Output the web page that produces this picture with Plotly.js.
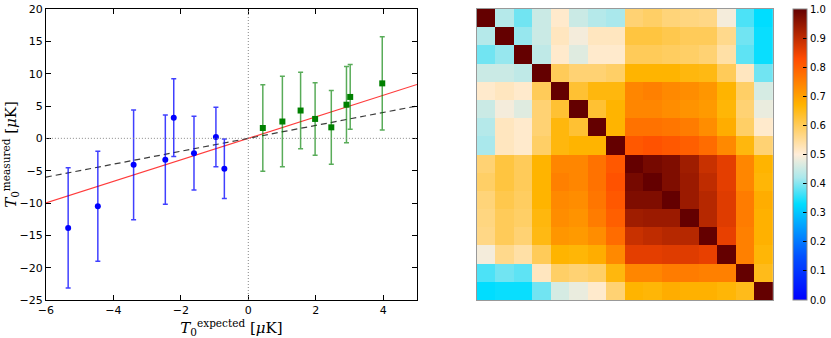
<!DOCTYPE html>
<html>
<head>
<meta charset="utf-8">
<script src="https://cdn.plot.ly/plotly-3.0.1.min.js"></script>
<style>
  body { margin: 0; background: #fff; }
  #chart { width: 831px; height: 338px; }
</style>
</head>
<body>
<div id="chart"></div>
<script>
// negative-expectation bins (blue circles)
const blueX = [-5.34, -4.46, -3.40, -2.46, -2.21, -1.61, -0.96, -0.71];
const blueY = [-13.85, -10.5, -4.1, -3.3, 3.2, -2.3, 0.2, -4.7];
const blueErr = [9.3, 8.5, 8.5, 6.9, 6.0, 5.7, 4.6, 4.6];

// positive-expectation bins (green squares)
const greenX = [0.43, 1.01, 1.55, 1.98, 2.46, 2.91, 3.02, 3.97];
const greenY = [1.6, 2.6, 4.3, 3.0, 1.7, 5.2, 6.4, 8.5];
const greenErr = [6.7, 7.0, 5.9, 5.6, 5.7, 5.9, 5.0, 7.2];

// fitted line and one-to-one line
const fitX = [-6, 5];
const fitY = [-10, 8.33];
const unitX = [-6, 5];
const unitY = [-6, 5];

// correlation matrix, 16 bins
const corr = [
  [1.00, 0.43, 0.39, 0.45, 0.51, 0.45, 0.43, 0.42, 0.58, 0.59, 0.575, 0.57, 0.565, 0.49, 0.37, 0.33],
  [0.43, 1.00, 0.41, 0.45, 0.52, 0.49, 0.52, 0.52, 0.62, 0.62, 0.61, 0.60, 0.60, 0.56, 0.39, 0.335],
  [0.39, 0.41, 1.00, 0.44, 0.51, 0.47, 0.51, 0.51, 0.60, 0.60, 0.595, 0.59, 0.58, 0.54, 0.38, 0.335],
  [0.45, 0.45, 0.44, 1.00, 0.60, 0.58, 0.58, 0.59, 0.67, 0.67, 0.67, 0.66, 0.655, 0.60, 0.52, 0.39],
  [0.51, 0.52, 0.51, 0.60, 1.00, 0.63, 0.66, 0.66, 0.74, 0.75, 0.735, 0.73, 0.715, 0.67, 0.59, 0.46],
  [0.45, 0.49, 0.47, 0.58, 0.63, 1.00, 0.63, 0.67, 0.74, 0.74, 0.73, 0.72, 0.71, 0.665, 0.58, 0.48],
  [0.43, 0.52, 0.51, 0.58, 0.66, 0.63, 1.00, 0.67, 0.77, 0.77, 0.765, 0.755, 0.73, 0.68, 0.59, 0.51],
  [0.42, 0.52, 0.51, 0.59, 0.66, 0.67, 0.67, 1.00, 0.81, 0.82, 0.81, 0.80, 0.78, 0.735, 0.66, 0.58],
  [0.58, 0.62, 0.60, 0.67, 0.74, 0.74, 0.77, 0.81, 1.00, 0.98, 0.97, 0.935, 0.89, 0.86, 0.74, 0.67],
  [0.59, 0.62, 0.60, 0.67, 0.75, 0.74, 0.77, 0.82, 0.98, 1.00, 0.97, 0.94, 0.90, 0.86, 0.74, 0.665],
  [0.575, 0.61, 0.595, 0.67, 0.735, 0.73, 0.765, 0.81, 0.97, 0.97, 1.00, 0.94, 0.91, 0.865, 0.755, 0.68],
  [0.57, 0.60, 0.59, 0.66, 0.73, 0.72, 0.755, 0.80, 0.935, 0.94, 0.94, 1.00, 0.91, 0.865, 0.755, 0.675],
  [0.565, 0.60, 0.58, 0.655, 0.715, 0.71, 0.73, 0.78, 0.89, 0.90, 0.91, 0.91, 1.00, 0.855, 0.75, 0.675],
  [0.49, 0.56, 0.54, 0.60, 0.67, 0.665, 0.68, 0.735, 0.86, 0.86, 0.865, 0.865, 0.855, 1.00, 0.75, 0.665],
  [0.37, 0.39, 0.38, 0.52, 0.59, 0.58, 0.59, 0.66, 0.74, 0.74, 0.755, 0.755, 0.75, 0.75, 1.00, 0.65],
  [0.33, 0.335, 0.335, 0.39, 0.46, 0.48, 0.51, 0.58, 0.67, 0.665, 0.68, 0.675, 0.675, 0.665, 0.65, 1.00]
];
const binIdx = [0, 1, 2, 3, 4, 5, 6, 7, 8, 9, 10, 11, 12, 13, 14, 15];
const cbTicks = [0, 0.1, 0.2, 0.3, 0.4, 0.5, 0.6, 0.7, 0.8, 0.9, 1.0];

// planck-like parchment colour scale
const planckScale = [
  [0.0, 'rgb(0,0,255)'],
  [0.15, 'rgb(0,80,255)'],
  [0.33, 'rgb(0,221,255)'],
  [0.42, 'rgb(170,232,236)'],
  [0.5, 'rgb(255,237,217)'],
  [0.67, 'rgb(255,180,0)'],
  [0.83, 'rgb(255,75,0)'],
  [1.0, 'rgb(100,0,0)']
];

const traces = [
  {
    x: fitX, y: fitY, mode: 'lines', type: 'scatter',
    line: { color: 'rgb(255,60,60)', width: 1.2 },
    hoverinfo: 'skip', showlegend: false
  },
  {
    x: unitX, y: unitY, mode: 'lines', type: 'scatter',
    line: { color: 'rgb(60,60,60)', width: 1.2, dash: '6px,4px' },
    hoverinfo: 'skip', showlegend: false
  },
  {
    x: blueX, y: blueY, mode: 'markers', type: 'scatter',
    marker: { color: 'rgb(0,0,255)', size: 6, symbol: 'circle' },
    error_y: { type: 'data', array: blueErr, visible: true, color: 'rgba(0,0,255,0.75)', thickness: 1.5, width: 2.5 },
    showlegend: false
  },
  {
    x: greenX, y: greenY, mode: 'markers', type: 'scatter',
    marker: { color: 'rgb(0,128,0)', size: 6, symbol: 'square' },
    error_y: { type: 'data', array: greenErr, visible: true, color: 'rgba(0,128,0,0.65)', thickness: 1.5, width: 2.5 },
    showlegend: false
  },
  {
    z: corr, x: binIdx, y: binIdx, type: 'heatmap',
    xaxis: 'x2', yaxis: 'y2',
    zmin: 0, zmax: 1,
    colorscale: planckScale,
    colorbar: {
      x: 0.9567, xanchor: 'left', xpad: 0, ypad: 0,
      y: 0.5, yanchor: 'middle', len: 1, lenmode: 'fraction',
      thickness: 14, outlinewidth: 1, outlinecolor: '#888',
      tickvals: cbTicks, tickformat: '.1f',
      ticks: 'inside', ticklen: 4, tickcolor: '#000',
      tickfont: { size: 10, color: '#000' }
    }
  }
];

const tickAxis = {
  showgrid: false, zeroline: false,
  showline: true, linecolor: '#000', linewidth: 1, mirror: 'ticks',
  ticks: 'inside', ticklen: 5, tickcolor: '#000',
  tickfont: { size: 11, color: '#000' }
};

const layout = {
  width: 831, height: 338,
  margin: { l: 0, r: 0, t: 9, b: 38 },
  paper_bgcolor: '#fff', plot_bgcolor: '#fff',
  font: { family: 'DejaVu Sans, sans-serif', color: '#000' },
  xaxis: Object.assign({}, tickAxis, {
    domain: [46 / 831, 418 / 831],
    range: [-6, 5], tickvals: [-6, -4, -2, 0, 2, 4],
    title: { text: '<i>T</i><sub>0</sub><sup>expected</sup> [<i>μ</i>K]', font: { size: 15, family: 'DejaVu Serif, serif' }, standoff: 4 }
  }),
  yaxis: Object.assign({}, tickAxis, {
    domain: [0, 1],
    range: [-25, 20], tickvals: [-25, -20, -15, -10, -5, 0, 5, 10, 15, 20],
    title: { text: '<i>T</i><sub>0</sub><sup>measured</sup> [<i>μ</i>K]', font: { size: 15, family: 'DejaVu Serif, serif' }, standoff: 6 }
  }),
  xaxis2: {
    domain: [478 / 831, 775 / 831], anchor: 'y2',
    range: [-0.5, 15.5], showticklabels: false, ticks: '',
    showgrid: false, zeroline: false,
    showline: true, linecolor: '#999', linewidth: 1, mirror: true
  },
  yaxis2: {
    domain: [0, 1], anchor: 'x2',
    range: [15.5, -0.5], showticklabels: false, ticks: '',
    showgrid: false, zeroline: false,
    showline: true, linecolor: '#999', linewidth: 1, mirror: true
  },
  shapes: [
    { type: 'line', xref: 'x', yref: 'y', x0: -6, x1: 5, y0: 0, y1: 0, line: { color: '#888', width: 1, dash: '1px,2px' } },
    { type: 'line', xref: 'x', yref: 'y', x0: 0, x1: 0, y0: -25, y1: 20, line: { color: '#888', width: 1, dash: '1px,2px' } }
  ]
};

Plotly.newPlot('chart', traces, layout, { staticPlot: true, displayModeBar: false });
</script>
</body>
</html>
